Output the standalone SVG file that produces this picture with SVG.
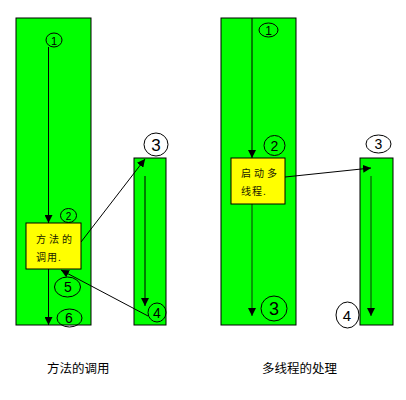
<svg xmlns="http://www.w3.org/2000/svg" width="406" height="400" viewBox="0 0 406 400">
<style>
.lane{fill:#00ff00;stroke:#000;stroke-width:1}
.box{fill:#ffff00;stroke:#000;stroke-width:1}
.ln{stroke:#000;stroke-width:1;fill:none}
.ln2{stroke:#0a5a0a;stroke-width:1.2;fill:none}
.c{fill:none;stroke:#000;stroke-width:1}
.n{font-family:"Liberation Sans",sans-serif;font-size:13px;fill:#000;text-anchor:middle}
.bt{font-family:"Noto Sans CJK SC",sans-serif;font-size:10px;fill:#1a1a00;letter-spacing:3px}
.cap{font-family:"Noto Sans CJK SC",sans-serif;font-size:12.5px;fill:#000}
</style>
<defs>
<marker id="ah" viewBox="0 0 10 10" refX="10" refY="5" markerWidth="8" markerHeight="8" markerUnits="userSpaceOnUse" orient="auto"><path d="M0,0 L10,5 L0,10 z" fill="#000"/></marker>
</defs>
<g id="left-main"><rect class="lane" x="16" y="18" width="75" height="307"/></g>
<g id="left-sub"><rect class="lane" x="134" y="158" width="32" height="167"/></g>
<g id="right-main"><rect class="lane" x="221" y="18" width="75" height="307"/></g>
<g id="right-sub"><rect class="lane" x="360" y="158" width="33" height="167"/></g>
<g id="connectors">
<line class="ln" x1="48.5" y1="47" x2="48.5" y2="223" marker-end="url(#ah)"/>
<line class="ln" x1="48.5" y1="269" x2="48.5" y2="325" marker-end="url(#ah)"/>
<line class="ln" x1="81" y1="242" x2="145" y2="159" marker-end="url(#ah)"/>
<line class="ln" x1="145" y1="176" x2="145" y2="306" marker-end="url(#ah)"/>
<line class="ln" x1="148" y1="316" x2="61" y2="270" marker-end="url(#ah)"/>
<line class="ln" x1="252" y1="18" x2="252" y2="158" marker-end="url(#ah)"/>
<line class="ln2" x1="252" y1="204" x2="252" y2="316" marker-end="url(#ah)"/>
<line class="ln" x1="285" y1="177" x2="371" y2="168" marker-end="url(#ah)"/>
<line class="ln2" x1="371" y1="176" x2="371" y2="316" marker-end="url(#ah)"/>
</g>
<g id="call-box"><rect class="box" x="26" y="223" width="55" height="46"/><text class="bt" x="36" y="243">方法的</text><text class="bt" x="36" y="261" style="letter-spacing:1px">调用.</text></g>
<g id="thread-box"><rect class="box" x="231" y="158" width="54" height="46"/><text class="bt" x="241" y="177">启动多</text><text class="bt" x="241" y="195" style="letter-spacing:1px">线程.</text></g>
<g id="l1"><ellipse class="c" cx="54" cy="40" rx="8" ry="7"/><text class="n" x="54" y="45" style="font-size:11px">1</text></g>
<g id="l2"><ellipse class="c" cx="68.5" cy="215.5" rx="8" ry="7"/><text class="n" x="68.5" y="220" style="font-size:10px">2</text></g>
<g id="l3"><ellipse class="c" cx="156" cy="144.5" rx="12" ry="11.5"/><text class="n" x="156" y="151" style="font-size:17px">3</text></g>
<g id="l4"><ellipse class="c" cx="157" cy="312.5" rx="9" ry="9.5"/><text class="n" x="157" y="318" style="font-size:14px">4</text></g>
<g id="l5"><ellipse class="c" cx="67.5" cy="287" rx="13" ry="10"/><text class="n" x="68" y="292" style="font-size:14px">5</text></g>
<g id="l6"><ellipse class="c" cx="69.5" cy="318" rx="12.5" ry="9"/><text class="n" x="69" y="323" style="font-size:14px">6</text></g>
<g id="r1"><ellipse class="c" cx="268.5" cy="30" rx="9.5" ry="7"/><text class="n" x="268.5" y="35" style="font-size:12px">1</text></g>
<g id="r2"><ellipse class="c" cx="274.5" cy="145.5" rx="10.5" ry="10"/><text class="n" x="274.5" y="151" style="font-size:14px">2</text></g>
<g id="r3"><ellipse class="c" cx="378.5" cy="144" rx="12.5" ry="9"/><text class="n" x="378.5" y="149" style="font-size:14px">3</text></g>
<g id="r3b"><ellipse class="c" cx="274" cy="308.5" rx="13" ry="12.5"/><text class="n" x="274" y="315" style="font-size:18px">3</text></g>
<g id="r4"><ellipse class="c" cx="347.5" cy="315" rx="11.5" ry="13"/><text class="n" x="347" y="321" style="font-size:15px">4</text></g>
<g id="captions"><text class="cap" x="47" y="373">方法的调用</text><text class="cap" x="262" y="373">多线程的处理</text></g>
</svg>
